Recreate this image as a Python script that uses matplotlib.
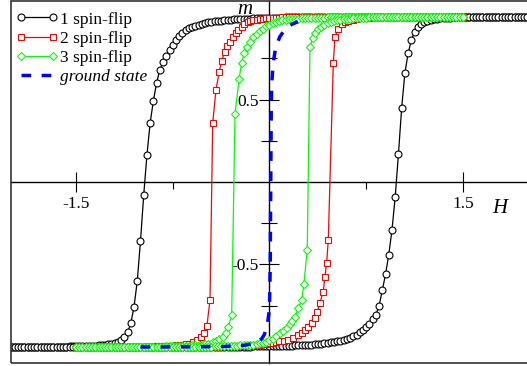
import numpy as np
import matplotlib
matplotlib.use('Agg')
import matplotlib.pyplot as plt
from matplotlib.patches import Rectangle

plt.rcParams['font.family'] = ['Liberation Serif', 'DejaVu Serif']
plt.rcParams['axes.unicode_minus'] = False
plt.rcParams['lines.scale_dashes'] = False


def grid(a, b):
    # field sweep grid, step 0.025
    return np.round(np.arange(a, b + 1e-9, 0.025), 4)


# ---- 1 spin-flip (black) ----
h1 = grid(-2.0, 2.0)
m1_dn = [
    -1, -1, -1, -1, -1, -1, -0.999, -0.999,
    -0.999, -0.999, -0.999, -0.999, -0.998, -0.998, -0.998, -0.997,
    -0.997, -0.997, -0.996, -0.996, -0.995, -0.995, -0.994, -0.994,
    -0.993, -0.992, -0.991, -0.990, -0.988, -0.986, -0.983, -0.979,
    -0.974, -0.967, -0.958, -0.941, -0.911, -0.856, -0.756, -0.600,
    -0.358, -0.079, 0.164, 0.359, 0.493, 0.602, 0.679, 0.729,
    0.762, 0.800, 0.830, 0.858, 0.882, 0.905, 0.920, 0.932,
    0.941, 0.948, 0.954, 0.959, 0.963, 0.967, 0.970, 0.973,
    0.976, 0.978, 0.980, 0.982, 0.984, 0.985, 0.986, 0.987,
    0.988, 0.989, 0.990, 0.991, 0.992, 0.993, 0.993, 0.994,
    0.995, 0.995, 0.996, 0.996, 0.996, 0.997, 0.997, 0.997,
    0.997, 0.998, 0.998, 0.998, 0.998, 0.998, 0.999, 0.999,
    0.999, 0.999, 0.999, 0.999, 1, 1, 1, 1,
] + [1.0] * 57
m1_up = [-1.0] * 56 + [
    -1, -1, -1, -1, -1, -0.999, -0.999, -0.999,
    -0.999, -0.999, -0.999, -0.998, -0.998, -0.998, -0.998, -0.997,
    -0.997, -0.997, -0.997, -0.996, -0.996, -0.996, -0.996, -0.995,
    -0.995, -0.995, -0.994, -0.994, -0.993, -0.993, -0.992, -0.991,
    -0.990, -0.989, -0.988, -0.987, -0.986, -0.985, -0.983, -0.981,
    -0.979, -0.977, -0.975, -0.972, -0.969, -0.965, -0.961, -0.956,
    -0.950, -0.943, -0.935, -0.925, -0.912, -0.897, -0.880, -0.860,
    -0.830, -0.805, -0.750, -0.655, -0.560, -0.440, -0.290, -0.090,
    0.170, 0.450, 0.660, 0.780, 0.860, 0.910, 0.937, 0.955,
    0.968, 0.977, 0.983, 0.987, 0.990, 0.992, 0.994, 0.995,
    0.996, 0.997, 0.998, 0.998, 0.999, 0.999, 0.999, 1,
] + [1.0] * 17

# ---- 2 spin-flip (red) ----
h2_dn = np.concatenate([
    grid(-1.5, -0.625),
    [-0.595, -0.564, -0.531, -0.508, -0.485, -0.461, -0.44, -0.415, -0.389, -0.371,
     -0.345, -0.327, -0.306, -0.285, -0.262, -0.242, -0.216, -0.195, -0.17, -0.148],
    grid(-0.125, 1.5)])
m2_dn = [-1.0] * 11 + [
    -0.999, -0.999, -0.999, -0.999, -0.999, -0.999, -0.999, -0.999,
    -0.998, -0.998, -0.998, -0.998, -0.997, -0.997, -0.996, -0.996,
    -0.995, -0.994, -0.993, -0.992, -0.990, -0.988, -0.986, -0.983, -0.980,
    -0.972, -0.958, -0.941, -0.917, -0.872, -0.715, 0.356, 0.558, 0.669, 0.735,
    0.790, 0.824, 0.850, 0.877, 0.901, 0.921, 0.941, 0.958, 0.967, 0.974,
    0.979, 0.983, 0.986, 0.989, 0.991, 0.993, 0.994, 0.995,
    0.996, 0.997, 0.997, 0.998, 0.998, 0.998, 0.999, 0.999,
    0.999, 0.999, 0.999, 1, 1, 1, 1, 1,
] + [1.0] * 42
h2_up = np.concatenate([
    grid(-1.5, 0.075),
    [0.11, 0.146, 0.184, 0.223, 0.25, 0.275, 0.3, 0.327, 0.353, 0.37, 0.39, 0.417,
     0.43, 0.443, 0.456, 0.495, 0.508, 0.533, 0.56, 0.585, 0.61],
    grid(0.65, 1.5)])
m2_up = [-1.0] * 34 + [
    -0.999, -0.999, -0.999, -0.999, -0.998, -0.998, -0.998, -0.998,
    -0.997, -0.997, -0.997, -0.996, -0.996, -0.995, -0.995, -0.994,
    -0.993, -0.992, -0.991, -0.990, -0.989, -0.988, -0.986, -0.985,
    -0.983, -0.980, -0.977, -0.973, -0.969, -0.966,
    -0.962, -0.958, -0.947, -0.930, -0.917, -0.900, -0.880, -0.856, -0.826, -0.786,
    -0.735, -0.665, -0.574, -0.493, -0.352, 0.720, 0.880, 0.930, 0.955, 0.970, 0.978,
    0.984, 0.988, 0.991, 0.993, 0.995, 0.996, 0.997, 0.998, 0.998, 0.999, 0.999, 0.999,
] + [1.0] * 23

# ---- 3 spin-flip (green) ----
h3_dn = np.concatenate([
    grid(-1.5, -0.475),
    [-0.44, -0.415, -0.389, -0.363, -0.34, -0.319, -0.293, -0.267, -0.236, -0.216,
     -0.195, -0.172, -0.151, -0.126, -0.099, -0.074],
    grid(-0.05, 1.5)])
m3_dn = [-1.0] * 17 + [
    -0.999, -0.999, -0.999, -0.999, -0.998, -0.998, -0.998, -0.998,
    -0.997, -0.997, -0.997, -0.996, -0.996, -0.995, -0.995, -0.994,
    -0.993, -0.992, -0.991, -0.990, -0.989, -0.987, -0.985, -0.983, -0.980,
    -0.972, -0.964, -0.953, -0.937, -0.917, -0.877, -0.806, 0.412, 0.622, 0.723,
    0.780, 0.820, 0.850, 0.877, 0.897, 0.915,
    0.930, 0.943, 0.954, 0.963, 0.970, 0.975, 0.979, 0.982,
    0.985, 0.987, 0.989, 0.990, 0.991, 0.992, 0.993, 0.994,
    0.995, 0.995, 0.996, 0.996, 0.997, 0.997, 0.997, 0.998,
    0.998, 0.998, 0.998, 0.999, 0.999, 0.999, 0.999, 0.999,
] + [1.0] * 31
h3_up = np.concatenate([
    grid(-1.5, 0.05),
    [0.081, 0.107, 0.133, 0.159, 0.177, 0.198, 0.223, 0.25, 0.267, 0.293, 0.314,
     0.338, 0.353],
    grid(0.375, 1.5)])
m3_up = [-1.0] * 31 + [
    -0.999, -0.999, -0.999, -0.999, -0.999, -0.998, -0.998, -0.998,
    -0.998, -0.997, -0.997, -0.997, -0.996, -0.996, -0.995, -0.995,
    -0.994, -0.993, -0.992, -0.991, -0.990, -0.989, -0.987, -0.985,
    -0.985, -0.982, -0.978, -0.973, -0.967, -0.960, -0.951, -0.935,
    -0.913, -0.901, -0.887, -0.862, -0.841, -0.816, -0.766, -0.715, -0.618, -0.412,
    0.820, 0.875, 0.901,
    0.925, 0.940, 0.952, 0.961, 0.968, 0.974, 0.979, 0.983,
    0.986, 0.988, 0.990, 0.992, 0.993, 0.994, 0.995, 0.996,
    0.997, 0.997, 0.998, 0.998, 0.999, 0.999, 0.999, 0.999,
] + [1.0] * 22

# ---- ground state (blue dashed), visible part ----
h_gs = [-1.0, -0.6, -0.36, -0.2, -0.11, -0.06, -0.04, -0.022, -0.01, 0.0, 0.006,
        0.01, 0.014, 0.018, 0.029, 0.045, 0.06, 0.08, 0.107, 0.159, 0.22]
m_gs = [-1.0, -0.999, -0.997, -0.99, -0.978, -0.95, -0.925, -0.88, -0.83, -0.77,
        -0.5, 0.0, 0.45, 0.6, 0.72, 0.8, 0.84, 0.88, 0.91, 0.95, 0.972]

fig = plt.figure(figsize=(5.27, 3.66), dpi=100)
ax = fig.add_axes([11 / 527, 3 / 366, 519 / 527, 362 / 366])

mk = dict(mfc='white', mew=0.8, lw=0.9)
l1, = ax.plot(h1, m1_dn, 'o-', color='black', ms=5, zorder=3, **mk)
ax.plot(h1, m1_up, 'o-', color='black', ms=5, zorder=3, **mk)
l2, = ax.plot(h2_dn, m2_dn, 's-', color='red', ms=4.3, zorder=4, **mk)
ax.plot(h2_up, m2_up, 's-', color='red', ms=4.3, zorder=4, **mk)
l3, = ax.plot(h3_dn, m3_dn, 'D-', color='#00ff00', ms=3.6, zorder=5, **mk)
ax.plot(h3_up, m3_up, 'D-', color='#00ff00', ms=3.6, zorder=5, **mk)
l4, = ax.plot(h_gs, m_gs, '--', color='blue', lw=2.5, dashes=(7, 7.5), zorder=6)

ax.set_xlim(-2.004, 2.02)
ax.set_ylim(-1.097, 1.097)

# axes through the origin, plus a box around the plot
for s in ['top', 'right']:
    ax.spines[s].set_visible(False)
ax.spines['left'].set_position('zero')
ax.spines['bottom'].set_position('zero')
ax.spines['left'].set_linewidth(1.0)
ax.spines['bottom'].set_linewidth(1.0)
ax.add_patch(Rectangle((0, 0), 1, 1, transform=ax.transAxes, fill=False,
                       ec='#333333', lw=1.2, clip_on=False, zorder=10))

ax.set_xticks([-1.5, 1.5])
ax.set_xticklabels(['-1.5', '1.5'])
ax.set_xticks([-0.75, 0.75], minor=True)
ax.set_yticks([-0.5, 0.5])
ax.set_yticklabels(['-0.5', '0.5'])
ax.set_yticks([-0.75, -0.25, 0.25, 0.75], minor=True)
ax.tick_params(axis='x', which='major', direction='inout', length=14, width=0.8,
               labelsize=12.5, pad=3)
ax.tick_params(axis='x', which='minor', direction='out', length=5, width=0.8)
ax.tick_params(axis='y', which='major', direction='inout', length=15, width=0.8,
               labelsize=12.5, pad=0)
ax.tick_params(axis='y', which='minor', direction='inout', length=11, width=0.8)

ax.text(-0.19, 1.045, 'm', fontsize=15, style='italic', ha='center', va='center')
ax.text(1.787, -0.158, 'H', fontsize=15, style='italic', ha='center', va='center')

leg = ax.legend([l1, l2, l3, l4], ['1 spin-flip', '2 spin-flip', '3 spin-flip', 'ground state'],
                loc='upper left', bbox_to_anchor=(0.0033, 0.981), frameon=False,
                fontsize=12.5, numpoints=2, handlelength=2.4, handletextpad=0.15,
                labelspacing=0.18, borderaxespad=0, borderpad=0.2)
leg.get_texts()[3].set_style('italic')

plt.savefig('out.png', dpi=100)
